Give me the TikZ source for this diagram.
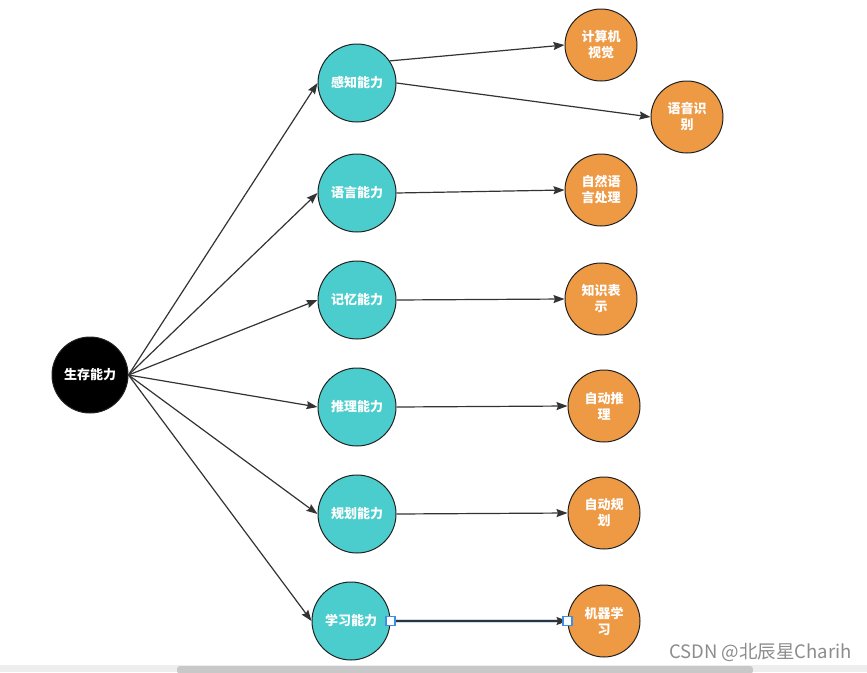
\documentclass[tikz,border=0pt]{standalone}
\usepackage{fontspec}
\setmainfont{Noto Sans CJK SC}
\usetikzlibrary{arrows.meta}
\definecolor{tealc}{HTML}{4BCDCD}
\definecolor{orangec}{HTML}{EE9944}
\definecolor{edgec}{HTML}{333333}
\definecolor{rimc}{HTML}{222222}
\definecolor{handlec}{HTML}{3D8EE6}
\definecolor{haloc}{HTML}{C8DEF5}
\definecolor{wmc}{HTML}{8C8C8C}
\definecolor{barc}{HTML}{EEEEEE}
\definecolor{thumbc}{HTML}{C8C8C8}
\tikzset{
  basecirc/.style={circle, draw=rimc, line width=1pt, inner sep=0pt, align=center,
    text=white, font=\fontsize{13}{16}\selectfont\bfseries},
  rootnode/.style={basecirc, fill=black, minimum size=76pt},
  tealnode/.style={basecirc, fill=tealc, minimum size=78pt},
  orangenode/.style={basecirc, fill=orangec, minimum size=72pt},
  conn/.style={draw=edgec, line width=1.2pt, -{Stealth[length=11pt,width=8pt,inset=1.5pt]}},
  handle/.style={draw=handlec, fill=white, line width=1.2pt,
    minimum size=9pt, inner sep=0pt, rectangle},
}
\begin{document}
\begin{tikzpicture}[x=1pt,y=-1pt]
\useasboundingbox (0,0) rectangle (867,672);
\fill[white] (0,0) rectangle (867,672);

% nodes
\node[rootnode] (r) at (90,375) {生存能力};
\node[tealnode] (t1) at (357,83) {感知能力};
\node[tealnode] (t2) at (357,193) {语言能力};
\node[tealnode] (t3) at (357,300) {记忆能力};
\node[tealnode] (t4) at (357,407) {推理能力};
\node[tealnode] (t5) at (357,514) {规划能力};
\node[tealnode] (t6) at (351,621) {学习能力};

\node[orangenode] (o1) at (601,45) {计算机\\视觉};
\node[orangenode] (o2) at (687,117) {语音识\\别};
\node[orangenode] (o3) at (601,190) {自然语\\言处理};
\node[orangenode] (o4) at (601,299) {知识表\\示};
\node[orangenode] (o5) at (604,406) {自动推\\理};
\node[orangenode] (o6) at (604,513) {自动规\\划};
\node[orangenode] (o7) at (604,621) {机器学\\习};

% root edges
\coordinate (rs) at (r.east);
\foreach \t in {t1,t2,t3,t4,t5,t6}{
  \draw[conn] (rs) -- (\t.west);
}

% second-level edges
\draw[conn] (t1.34) -- (o1.west);
\draw[conn] (t1.east) -- (o2.west);
\draw[conn] (t2.east) -- (o3.west);
\draw[conn] (t3.east) -- (o4.west);
\draw[conn] (t4.east) -- (o5.west);
\draw[conn] (t5.east) -- (o6.west);
\draw[draw=haloc, line width=3.5pt] (t6.east) -- (o7.west);
\draw[conn] (t6.east) -- (o7.west);
\node[handle] (h1) at (t6.east) {};
\node[handle] (h2) at (o7.west) {};

% watermark
\node[text=wmc, font=\fontsize{18.5}{22}\selectfont, anchor=east, inner sep=0pt] (wm) at (852,652) {CSDN @北辰星Charih};

% scrollbar
\fill[barc] (0,665) rectangle (867,672);
\fill[thumbc, rounded corners=3pt] (177,666) rectangle (753,674);
\end{tikzpicture}
\end{document}
